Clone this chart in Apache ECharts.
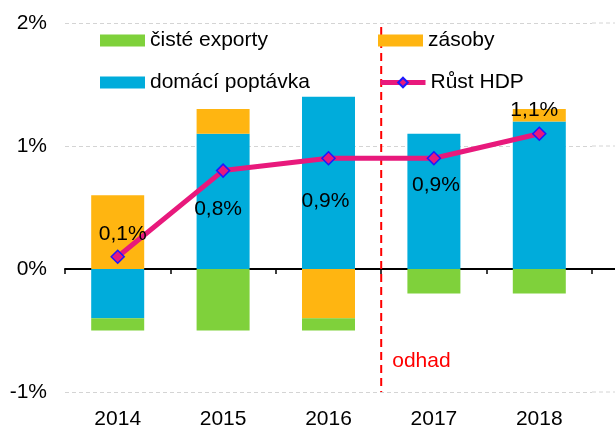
<!DOCTYPE html>
<html>
<head>
<meta charset="utf-8">
<script src="https://cdn.jsdelivr.net/npm/echarts@6/dist/echarts.min.js"></script>
<style>
    html, body { margin: 0; padding: 0; background: #fff; }
    #chart { width: 615px; height: 428px; }
</style>
</head>
<body>
<div id="chart"></div>
<script>
(function () {
    'use strict';

    var years = ['2014', '2015', '2016', '2017', '2018'];
    var domaciPoptavka = [-0.4, 1.1, 1.4, 1.1, 1.2];
    var zasoby = [0.6, 0.2, -0.4, 0, 0.1];
    var cisteExporty = [-0.1, -0.5, -0.1, -0.2, -0.2];
    var rustHdp = [0.1, 0.8, 0.9, 0.9, 1.1];
    var yTicks = [-1, 0, 1, 2];

    // label placement per point (style only)
    var labelSide = ['top', 'bottom', 'bottom', 'bottom', 'top'];
    var labelDist = [5, 21, 25, 9, 6];
    var labelShift = [5, -5, -3, 2, -5];

    var FONT = '"Liberation Sans", Arial, sans-serif';
    var FONT_SIZE = 21;
    var GREEN = '#7fd13b';
    var ORANGE = '#ffb511';
    var BLUE = '#00acdb';
    var PINK = '#e8197c';

    var fmt = function (v) {
        return v.toFixed(1).replace('.', ',') + '%';
    };

    var legendBase = function (item, left, top) {
        return {
            data: [item],
            left: left,
            top: top,
            padding: 0,
            itemWidth: 45,
            itemHeight: 12,
            selectedMode: false,
            textStyle: { fontFamily: FONT, fontSize: FONT_SIZE, color: '#000' }
        };
    };

    var hdpData = rustHdp.map(function (v, i) {
        return {
            value: v,
            label: {
                position: labelSide[i],
                distance: labelDist[i],
                offset: [labelShift[i], 0]
            }
        };
    });

    var chart = echarts.init(document.getElementById('chart'));

    chart.setOption({
        animation: false,
        grid: { left: 65, right: 23, top: 23, bottom: 36, containLabel: false, outerBoundsMode: 'none' },
        legend: [
            legendBase({ name: 'čisté exporty', icon: 'rect' }, 100, 30),
            legendBase({ name: 'zásoby', icon: 'rect' }, 378, 30),
            legendBase({ name: 'domácí poptávka', icon: 'rect' }, 100, 72),
            legendBase({ name: 'Růst HDP', lineStyle: { width: 5 } }, 378, 72)
        ],
        xAxis: {
            type: 'category',
            data: years,
            axisLine: { onZero: true, lineStyle: { color: '#000', width: 2 } },
            axisTick: { show: true, length: 5, lineStyle: { color: '#000', width: 1.5 } },
            axisLabel: { margin: 17, fontFamily: FONT, fontSize: FONT_SIZE, color: '#000' },
            splitLine: { show: false }
        },
        yAxis: {
            type: 'value',
            min: yTicks[0],
            max: yTicks[yTicks.length - 1],
            interval: 1,
            axisLine: { show: false },
            axisTick: { show: false },
            axisLabel: {
                margin: 18,
                fontFamily: FONT,
                fontSize: FONT_SIZE,
                color: '#000',
                formatter: '{value}%'
            },
            splitLine: { lineStyle: { color: '#d4d4d4', type: [4, 3], width: 1 } }
        },
        series: [
            {
                name: 'domácí poptávka',
                type: 'bar',
                stack: 'hdp',
                barWidth: 53,
                itemStyle: { color: BLUE },
                data: domaciPoptavka
            },
            {
                name: 'zásoby',
                type: 'bar',
                stack: 'hdp',
                barWidth: 53,
                itemStyle: { color: ORANGE },
                data: zasoby
            },
            {
                name: 'čisté exporty',
                type: 'bar',
                stack: 'hdp',
                barWidth: 53,
                itemStyle: { color: GREEN },
                data: cisteExporty
            },
            {
                name: 'Růst HDP',
                type: 'line',
                z: 5,
                symbol: 'diamond',
                symbolSize: 13,
                lineStyle: { color: PINK, width: 5 },
                itemStyle: { color: PINK, borderColor: '#1a1aff', borderWidth: 1.5 },
                label: {
                    show: true,
                    fontFamily: FONT,
                    fontSize: FONT_SIZE,
                    color: '#000',
                    formatter: function (p) { return fmt(p.value); }
                },
                data: hdpData
            }
        ]
    });

    // forecast divider and gridline tails, placed through the chart's own scales
    var x16 = chart.convertToPixel({ xAxisIndex: 0 }, years[2]);
    var x17 = chart.convertToPixel({ xAxisIndex: 0 }, years[3]);
    var xSplit = (x16 + x17) / 2;
    var yTop = chart.convertToPixel({ yAxisIndex: 0 }, yTicks[3]);
    var yBottom = chart.convertToPixel({ yAxisIndex: 0 }, yTicks[0]);
    var yOdhad = chart.convertToPixel({ yAxisIndex: 0 }, -0.75);
    var xRight = chart.getWidth() - 23;

    var graphics = [
        {
            type: 'line',
            shape: { x1: xSplit, y1: yTop + 4, x2: xSplit, y2: yBottom },
            style: { stroke: '#ff0000', lineWidth: 2, lineDash: [8, 5] },
            z: 3
        },
        {
            type: 'text',
            x: xSplit + 11,
            y: yOdhad,
            style: {
                text: 'odhad',
                fill: '#ff0000',
                font: FONT_SIZE + 'px ' + FONT,
                verticalAlign: 'middle'
            }
        }
    ];

    yTicks.forEach(function (t) {
        var y = chart.convertToPixel({ yAxisIndex: 0 }, t);
        graphics.push({
            type: 'line',
            shape: { x1: xRight, y1: y, x2: chart.getWidth(), y2: y },
            style: t === 0
                ? { stroke: '#000', lineWidth: 2 }
                : { stroke: '#d4d4d4', lineWidth: 1, lineDash: [4, 3] }
        });
    });

    chart.setOption({ graphic: graphics });
})();
</script>
</body>
</html>
